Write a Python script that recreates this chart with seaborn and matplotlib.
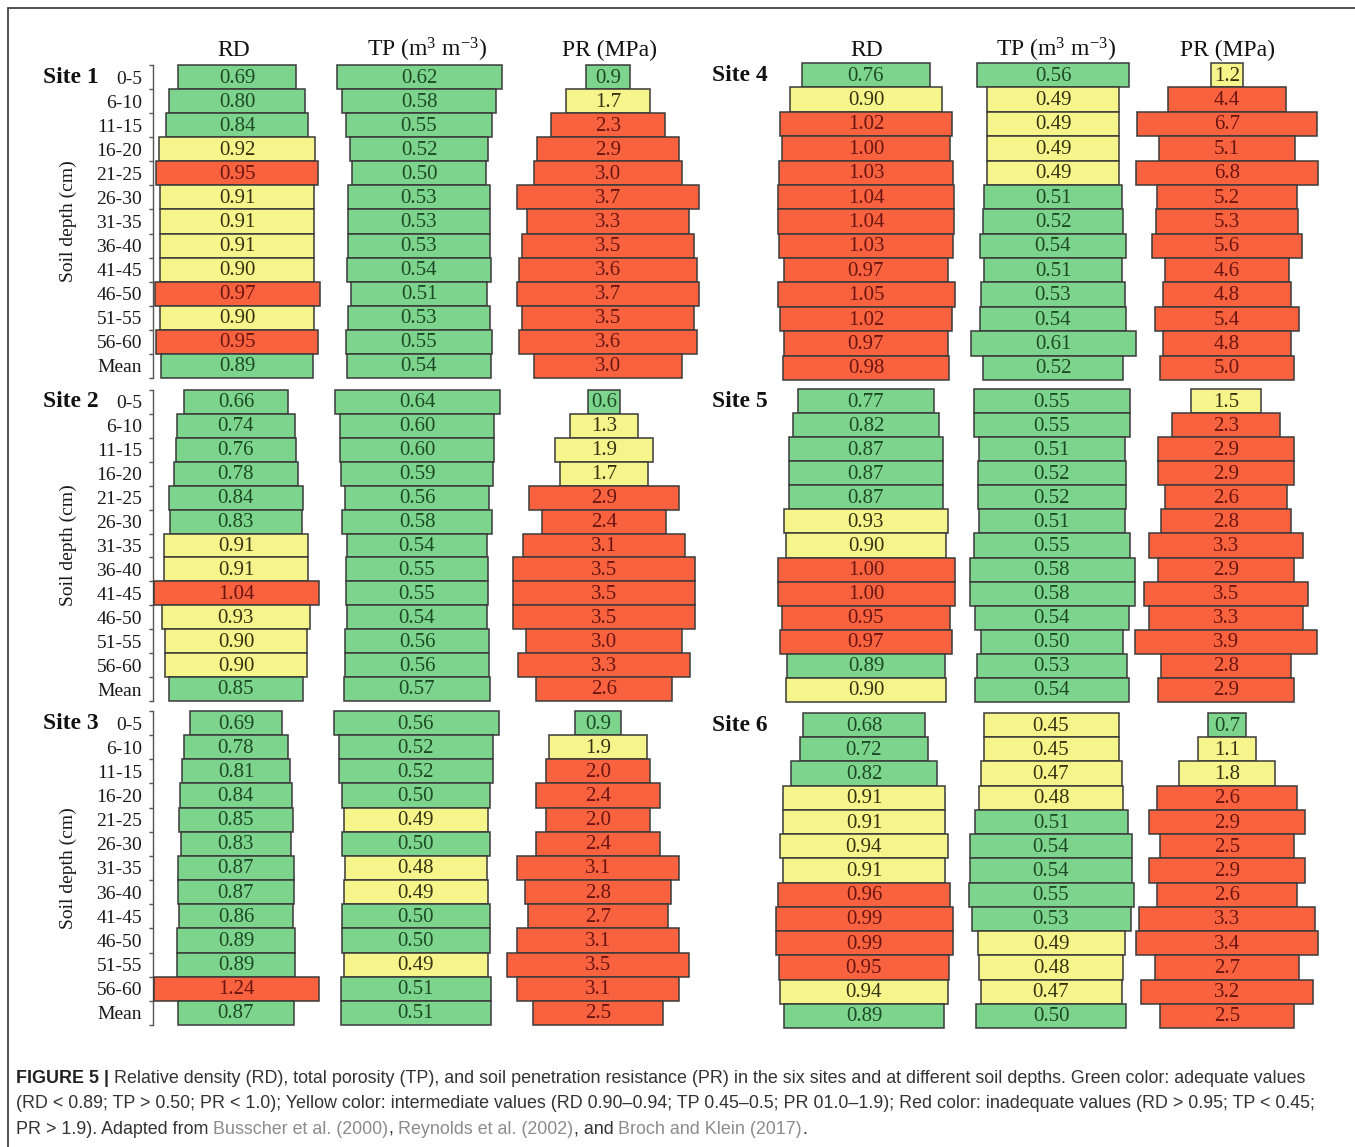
import numpy as np
import pandas as pd
import matplotlib
matplotlib.use("Agg")
import matplotlib.pyplot as plt
import seaborn as sns
from matplotlib.lines import Line2D

# ---------------- data ----------------
depths = ["0-5", "6-10", "11-15", "16-20", "21-25", "26-30", "31-35",
          "36-40", "41-45", "46-50", "51-55", "56-60", "Mean"]
sites = ["Site 1", "Site 2", "Site 3", "Site 4", "Site 5", "Site 6"]
variables = ["RD", "TP", "PR"]
headers = ["RD", r"TP (m$^3$ m$^{-3}$)", "PR (MPa)"]

site1_rd = [0.69, 0.80, 0.84, 0.92, 0.95, 0.91, 0.91, 0.91, 0.90, 0.97, 0.90, 0.95, 0.89]
site1_tp = [0.62, 0.58, 0.55, 0.52, 0.50, 0.53, 0.53, 0.53, 0.54, 0.51, 0.53, 0.55, 0.54]
site1_pr = [0.9, 1.7, 2.3, 2.9, 3.0, 3.7, 3.3, 3.5, 3.6, 3.7, 3.5, 3.6, 3.0]

site2_rd = [0.66, 0.74, 0.76, 0.78, 0.84, 0.83, 0.91, 0.91, 1.04, 0.93, 0.90, 0.90, 0.85]
site2_tp = [0.64, 0.60, 0.60, 0.59, 0.56, 0.58, 0.54, 0.55, 0.55, 0.54, 0.56, 0.56, 0.57]
site2_pr = [0.6, 1.3, 1.9, 1.7, 2.9, 2.4, 3.1, 3.5, 3.5, 3.5, 3.0, 3.3, 2.6]

site3_rd = [0.69, 0.78, 0.81, 0.84, 0.85, 0.83, 0.87, 0.87, 0.86, 0.89, 0.89, 1.24, 0.87]
site3_tp = [0.56, 0.52, 0.52, 0.50, 0.49, 0.50, 0.48, 0.49, 0.50, 0.50, 0.49, 0.51, 0.51]
site3_pr = [0.9, 1.9, 2.0, 2.4, 2.0, 2.4, 3.1, 2.8, 2.7, 3.1, 3.5, 3.1, 2.5]

site4_rd = [0.76, 0.90, 1.02, 1.00, 1.03, 1.04, 1.04, 1.03, 0.97, 1.05, 1.02, 0.97, 0.98]
site4_tp = [0.56, 0.49, 0.49, 0.49, 0.49, 0.51, 0.52, 0.54, 0.51, 0.53, 0.54, 0.61, 0.52]
site4_pr = [1.2, 4.4, 6.7, 5.1, 6.8, 5.2, 5.3, 5.6, 4.6, 4.8, 5.4, 4.8, 5.0]

site5_rd = [0.77, 0.82, 0.87, 0.87, 0.87, 0.93, 0.90, 1.00, 1.00, 0.95, 0.97, 0.89, 0.90]
site5_tp = [0.55, 0.55, 0.51, 0.52, 0.52, 0.51, 0.55, 0.58, 0.58, 0.54, 0.50, 0.53, 0.54]
site5_pr = [1.5, 2.3, 2.9, 2.9, 2.6, 2.8, 3.3, 2.9, 3.5, 3.3, 3.9, 2.8, 2.9]

site6_rd = [0.68, 0.72, 0.82, 0.91, 0.91, 0.94, 0.91, 0.96, 0.99, 0.99, 0.95, 0.94, 0.89]
site6_tp = [0.45, 0.45, 0.47, 0.48, 0.51, 0.54, 0.54, 0.55, 0.53, 0.49, 0.48, 0.47, 0.50]
site6_pr = [0.7, 1.1, 1.8, 2.6, 2.9, 2.5, 2.9, 2.6, 3.3, 3.4, 2.7, 3.2, 2.5]

site_data = [
    (site1_rd, site1_tp, site1_pr),
    (site2_rd, site2_tp, site2_pr),
    (site3_rd, site3_tp, site3_pr),
    (site4_rd, site4_tp, site4_pr),
    (site5_rd, site5_tp, site5_pr),
    (site6_rd, site6_tp, site6_pr),
]

# class thresholds (adequate / intermediate / inadequate)
def classify(var, v):
    if var == "RD":
        return "G" if v <= 0.89 else ("Y" if v < 0.95 else "R")
    if var == "TP":
        return "G" if v >= 0.50 else ("Y" if v >= 0.45 else "R")
    return "G" if v < 1.0 else ("Y" if v <= 1.9 else "R")

FILL = {"G": "#7dd48c", "Y": "#f6f58b", "R": "#f8623f"}
TXT = {"G": "#1d4a26", "Y": "#35330f", "R": "#6b1410"}
EDGE = "#3a3a3a"

# ---------------- layout (pixels) ----------------
W, H = 1355, 1147
rows_px = [(65, 378), (390, 701), (711, 1025), (63, 380), (389, 702), (713, 1028)]
col_centers = [
    [237, 419, 608], [236, 417, 604], [236, 416, 598],
    [866, 1053, 1227], [866, 1052, 1226], [864, 1051, 1227],
]
left_widths = [165, 165, 182]
right_widths = [177, 165, 182]
header_x = [[234, 427, 610], [867, 1056, 1228]]
header_y = 50

sns.set_theme(style="white")
plt.rcParams["font.family"] = ["Liberation Serif", "DejaVu Serif"]
plt.rcParams["mathtext.fontset"] = "custom"
plt.rcParams["mathtext.rm"] = "Liberation Serif"
plt.rcParams["mathtext.it"] = "Liberation Serif:italic"
plt.rcParams["mathtext.bf"] = "Liberation Serif:bold"

fig = plt.figure(figsize=(W / 100, H / 100), dpi=100)
fig.patch.set_facecolor("white")


def box(x0, y0, w, h):
    return [x0 / W, 1 - (y0 + h) / H, w / W, h / H]


def fx(x):
    return x / W


def fy(y):
    return 1 - y / H


# border
fig.add_artist(Line2D([fx(8), 1.0], [fy(8), fy(8)], transform=fig.transFigure,
                      color="#444444", lw=1.3))
fig.add_artist(Line2D([fx(8), fx(8)], [fy(8), 0.0], transform=fig.transFigure,
                      color="#444444", lw=1.3))

# headers
for side in range(2):
    for k, h in enumerate(headers):
        fig.text(fx(header_x[side][k]), fy(header_y), h, ha="center", va="center",
                 fontsize=17, color="#111111")

for s in range(6):
    top, bot = rows_px[s]
    hpx = bot - top
    left_side = s < 3
    widths = left_widths if left_side else right_widths

    # depth axis (left sites only)
    if left_side:
        axy = fig.add_axes(box(153, top, 2, hpx))
        axy.set_ylim(12.5, -0.5)
        axy.set_yticks(range(13))
        axy.set_yticklabels(depths)
        axy.set_yticks(np.arange(-0.5, 13, 1.0), minor=True)
        axy.tick_params(axis="y", which="major", left=True, length=0, pad=8,
                        labelsize=14, labelcolor="#1a1a1a")
        axy.tick_params(axis="y", which="minor", left=True, length=3, width=1,
                        color="#555555", direction="out")
        axy.set_xticks([])
        for sp in ["top", "right", "bottom"]:
            axy.spines[sp].set_visible(False)
        axy.spines["left"].set_color("#555555")
        axy.spines["left"].set_linewidth(1.0)
        axy.patch.set_visible(False)
        fig.text(fx(68), fy((top + bot) / 2), "Soil depth (cm)", rotation=90,
                 ha="center", va="center", fontsize=14, color="#1a1a1a")
        fig.text(fx(43), fy(top + hpx / 26), sites[s], ha="left", va="center",
                 fontsize=17, fontweight="bold", color="#111111")
    else:
        fig.text(fx(712), fy(top + hpx / 26), sites[s], ha="left", va="center",
                 fontsize=17, fontweight="bold", color="#111111")

    for k, var in enumerate(variables):
        vals = site_data[s][k]
        cats = [classify(var, v) for v in vals]
        df = pd.DataFrame({"depth": depths, "value": vals})
        pal = {d: FILL[c] for d, c in zip(depths, cats)}
        wpx = widths[k]
        cx = col_centers[s][k]
        ax = fig.add_axes(box(cx - wpx / 2, top, wpx, hpx))
        sns.barplot(data=df, x="value", y="depth", hue="depth", palette=pal,
                    order=depths, hue_order=depths, orient="h", width=1.0,
                    dodge=False, legend=False, errorbar=None, saturation=1,
                    edgecolor=EDGE, linewidth=1.1, ax=ax)
        for p in ax.patches:
            p.set_x(-p.get_width() / 2)
            p.set_clip_on(False)
        m = max(vals)
        ax.set_xlim(-m / 2, m / 2)
        ax.set_ylim(12.5, -0.5)
        ax.axis("off")
        fmt = "{:.1f}" if var == "PR" else "{:.2f}"
        for i, (v, c) in enumerate(zip(vals, cats)):
            ax.text(0, i + 0.04, fmt.format(v), ha="center", va="center",
                    fontsize=15, color=TXT[c])

# ---------------- caption ----------------
CAP_FS = 12.9
CAP_FAM = ["Liberation Sans", "DejaVu Sans"]
DARK = "#333333"
GRAY = "#8c8c8c"
renderer = fig.canvas.get_renderer()


def text_w(s, weight="normal"):
    t = fig.text(0, 0, s, fontsize=CAP_FS, family=CAP_FAM, fontweight=weight)
    w = t.get_window_extent(renderer).width
    t.remove()
    return w


space_w = text_w("x x") - text_w("xx")


def rich_line(pieces, x0, y0):
    x = x0
    for s, color, weight, sp in pieces:
        t = fig.text(x / W, fy(y0), s, fontsize=CAP_FS, family=CAP_FAM,
                     fontweight=weight, color=color, ha="left", va="baseline")
        bb = t.get_window_extent(renderer)
        x = bb.x1 + (space_w if sp else 0)


rich_line([
    ("FIGURE 5 |", "#222222", "bold", True),
    ("Relative density (RD), total porosity (TP), and soil penetration resistance (PR) "
     "in the six sites and at different soil depths. Green color: adequate values",
     DARK, "normal", False),
], 16, 1083)
rich_line([
    ("(RD < 0.89; TP > 0.50; PR < 1.0); Yellow color: intermediate values (RD 0.90\u20130.94; "
     "TP 0.45\u20130.5; PR 01.0\u20131.9); Red color: inadequate values (RD > 0.95; TP < 0.45;",
     DARK, "normal", False),
], 16, 1108)
rich_line([
    ("PR > 1.9). Adapted from", DARK, "normal", True),
    ("Busscher et al. (2000)", GRAY, "normal", False),
    (",", DARK, "normal", True),
    ("Reynolds et al. (2002)", GRAY, "normal", False),
    (", and", DARK, "normal", True),
    ("Broch and Klein (2017)", GRAY, "normal", False),
    (".", DARK, "normal", False),
], 16, 1134)

fig.savefig("out.png", dpi=100, facecolor="white")
